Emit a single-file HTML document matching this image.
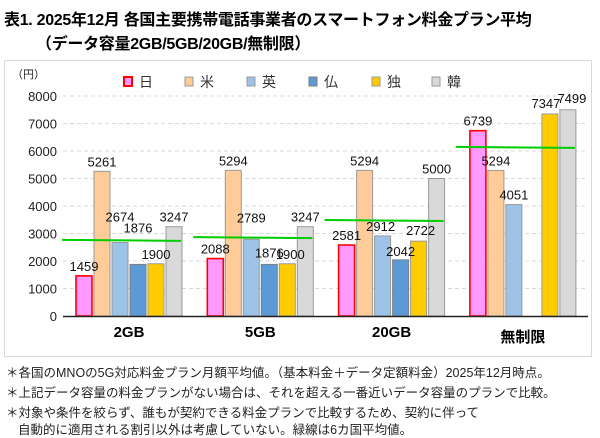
<!DOCTYPE html>
<html><head><meta charset="utf-8"><style>
body{margin:0;background:#fff;width:600px;height:437px;overflow:hidden;font-family:"Liberation Sans","Noto Sans CJK JP",sans-serif}
.t{position:absolute;left:4px;font-size:16px;font-weight:bold;color:#000;white-space:nowrap;letter-spacing:-0.3px}
.n{position:absolute;left:6px;font-size:12.5px;color:#222;white-space:nowrap}
</style></head><body>
<div class="t" style="top:6px">表1. 2025年12月 各国主要携帯電話事業者のスマートフォン料金プラン平均</div>
<div class="t" style="top:30px;left:36px">（データ容量2GB/5GB/20GB/無制限）</div>
<svg id="c" width="600" height="437" style="position:absolute;left:0;top:0"></svg>
<div class="n" style="top:362px">＊各国のMNOの5G対応料金プラン月額平均値。（基本料金＋データ定額料金）2025年12月時点。</div>
<div class="n" style="top:382px">＊上記データ容量の料金プランがない場合は、それを超える一番近いデータ容量のプランで比較。</div>
<div class="n" style="top:402px">＊対象や条件を絞らず、誰もが契約できる料金プランで比較するため、契約に伴って</div>
<div class="n" style="top:419px;left:18px">自動的に適用される割引以外は考慮していない。緑線は6カ国平均値。</div>
<script>
const categories=["2GB","5GB","20GB","無制限"];
const countries=["日","米","英","仏","独","韓"];
const jp=[1459,2088,2581,6739];
const us=[5261,5294,5294,5294];
const uk=[2674,2789,2912,4051];
const fr=[1876,1876,2042,null];
const de=[1900,1900,2722,7347];
const kr=[3247,3247,5000,7499];
const avg=[2770,2870,3490,6150];
const yTicks=[0,1000,2000,3000,4000,5000,6000,7000,8000];
const series=[jp,us,uk,fr,de,kr];
const fills=["#ff99ff","#ffcc99","#9dc3e6","#5b9bd5","#ffcc00","#d9d9d9"];
const strokes=["#ff0000","#999","#999","#7f7f7f","#999","#999"];
// label nudges (layout only): key "group,series" -> [dx,dy]
const nudge={"0,2":[0,-16],"0,3":[0,-27],"1,2":[0,-12],"1,3":[0,-2],"1,4":[3,0],"2,2":[-2,0],"2,3":[0,1],"2,4":[2,-1],"3,4":[-4,-1],"3,5":[4,-2]};
const NS="http://www.w3.org/2000/svg";
const svg=document.getElementById('c');
function el(t,a,p){const e=document.createElementNS(NS,t);for(const k in a)e.setAttribute(k,a[k]);(p||svg).appendChild(e);return e;}
const y0=316,yTop=96,vMax=8000;
const y=v=>y0-(v/vMax)*(y0-yTop);
const groupStart=[76,207,339,470],pitch=18,bw=16;
const xBar=(g,s)=>groupStart[0]+g*131.3+s*pitch;
const frame=el('rect',{x:4.5,y:60.5,width:587,height:296,fill:'#fff',stroke:'#d9d9d9'});


yTicks.forEach(v=>{
  if(v>0){const g=el('line',{x1:63,x2:588,y1:y(v),y2:y(v),stroke:'#d9d9d9','stroke-dasharray':'4,3'});
  
  }
  const t=el('text',{x:57,y:y(v)+5,'text-anchor':'end','font-size':13,fill:'#222'});t.textContent=v;
  
  
});
const u=el('text',{x:12,y:78,'font-size':11,fill:'#222'});u.textContent='（円）';


countries.forEach((c,i)=>{
  const lx=[124,185,247,309,372,432][i];
  const r=el('rect',{x:lx,y:77,width:8,height:9,fill:fills[i],stroke:strokes[i],'stroke-width':i==0?2:1});
  
  
  const t=el('text',{x:lx+15,y:87,'font-size':14,fill:'#333'});t.textContent=c;
  
  
});
categories.forEach((cat,g)=>{
  series.forEach((s,i)=>{
    const v=s[g];if(v==null)return;
    const x=xBar(g,i);
    const r=el('rect',{x:x,y:y(v),width:bw,height:y0-y(v),fill:fills[i],stroke:strokes[i],'stroke-width':i==0?1.6:1});
    
    
  });
});
categories.forEach((cat,g)=>{
  series.forEach((s,i)=>{
    const v=s[g];if(v==null)return;
    const d=nudge[g+','+i]||[0,0];
    const t=el('text',{x:xBar(g,i)+bw/2+d[0],y:y(v)-5+d[1],'text-anchor':'middle','font-size':13,fill:'#111'});t.textContent=v;
    
    
  });
  const gx=xBar(g,0);
  const a=el('line',{x1:gx-14,x2:gx+105,y1:y(avg[g]),y2:y(avg[g])+1,stroke:'#00cc00','stroke-width':2});
  
  
  const t=el('text',{x:xBar(g,0)+53,y:g==3?342:337,'text-anchor':'middle','font-size':15,'font-weight':'bold',fill:'#000'});t.textContent=cat;
  
  
});
const ax=el('line',{x1:63,x2:588,y1:y0+0.5,y2:y0+0.5,stroke:'#222','stroke-width':1.5});


</script>
</body></html>
